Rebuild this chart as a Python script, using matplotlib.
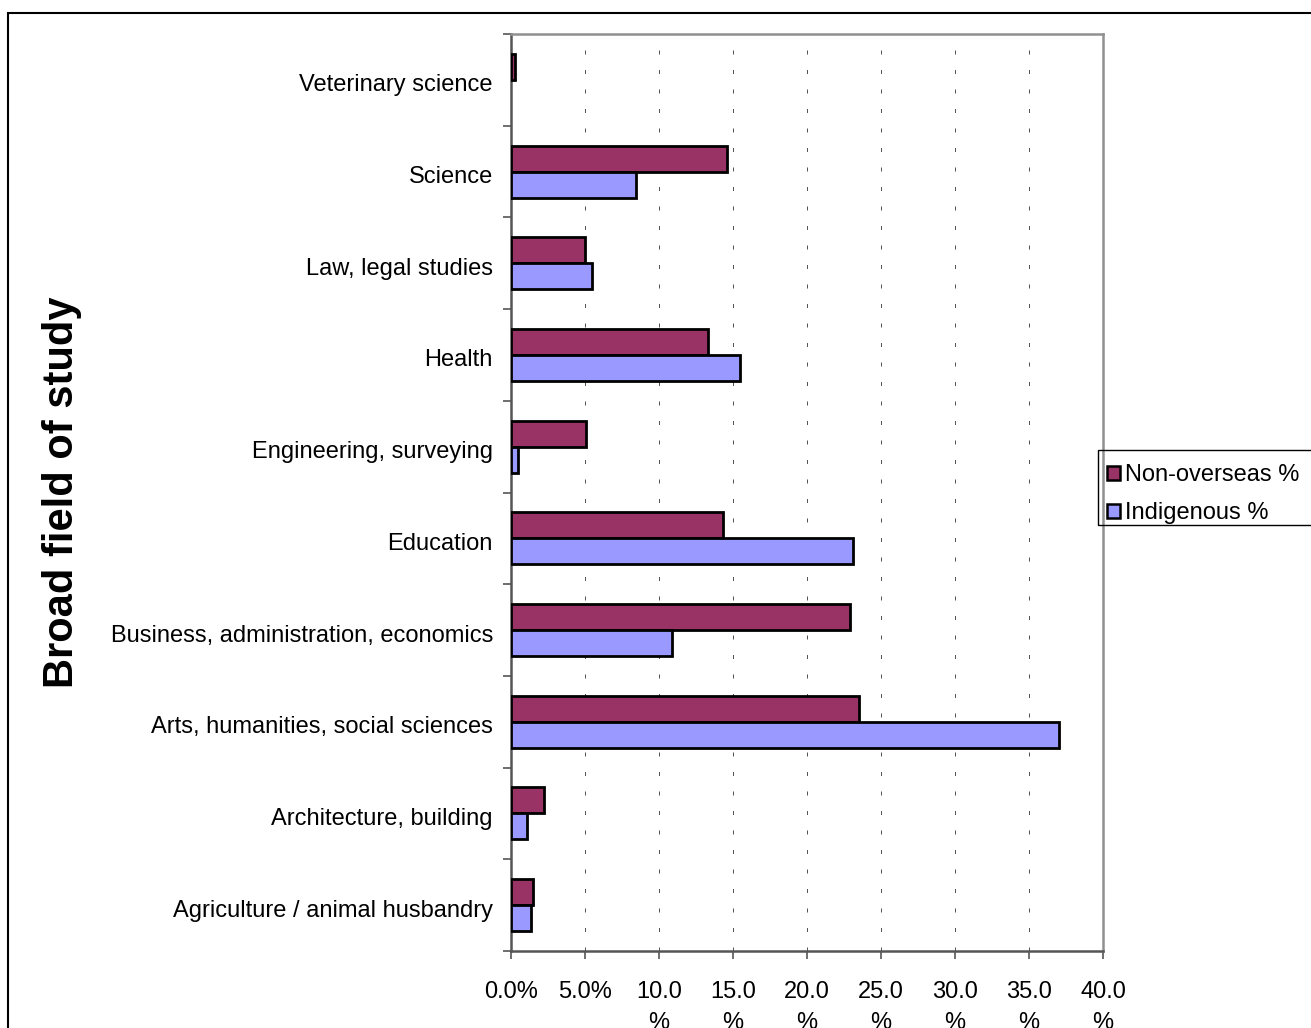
import matplotlib
matplotlib.use("Agg")
import matplotlib.pyplot as plt
from matplotlib.patches import Patch, Rectangle
from matplotlib.transforms import ScaledTranslation
import numpy as np

plt.rcParams['font.family'] = ['Liberation Sans', 'DejaVu Sans']

categories = ["Agriculture / animal husbandry", "Architecture, building",
              "Arts, humanities, social sciences", "Business, administration, economics",
              "Education", "Engineering, surveying", "Health", "Law, legal studies",
              "Science", "Veterinary science"]
non_overseas = [1.5, 2.2, 23.5, 22.9, 14.3, 5.1, 13.3, 5.0, 14.6, 0.3]
indigenous = [1.35, 1.1, 37.0, 10.9, 23.1, 0.45, 15.5, 5.45, 8.45, 0.0]
series_names = ["Non-overseas %", "Indigenous %"]
xticks = [0, 5, 10, 15, 20, 25, 30, 35, 40]
xticklabels = ["0.0%", "5.0%", "10.0\n%", "15.0\n%", "20.0\n%", "25.0\n%", "30.0\n%", "35.0\n%", "40.0\n%"]

W, H = 1311, 1028
fig = plt.figure(figsize=(W/100, H/100), dpi=100)
ax = fig.add_axes([511/W, 1-951/H, (1103-511)/W, (951-34)/H])

y = np.arange(len(categories))
h = 0.2835
c1, c2 = "#993366", "#9999FF"
b1 = ax.barh(y + h/2, non_overseas, height=h, color=c1, edgecolor="black", linewidth=2.0, zorder=3)
b2 = ax.barh(y - h/2, indigenous, height=h, color=c2, edgecolor="black", linewidth=2.0, zorder=3)
for p in list(b1) + list(b2):
    if p.get_width() == 0:
        p.set_visible(False)

ax.set_xlim(0, 40)
ax.set_ylim(-0.5, len(categories) - 0.5)

ax.set_xticks(xticks)
ax.set_xticklabels(xticklabels, fontsize=17, linespacing=1.55)
ax.tick_params(axis='x', direction='out', length=5.5, width=1.2, color='#555555', pad=16)

ax.set_yticks(np.arange(len(categories) + 1) - 0.5)
ax.set_yticklabels([])
ax.tick_params(axis='y', which='major', direction='out', length=5.5, width=1.2, color='#555555')
ax.set_yticks(y, minor=True)
ax.set_yticklabels(categories, minor=True, fontsize=17)
ax.tick_params(axis='y', which='minor', length=0, pad=13)
for lab in ax.get_yticklabels(minor=True):
    lab.set_transform(lab.get_transform() + ScaledTranslation(0, -0.03, fig.dpi_scale_trans))

for xv in xticks[1:-1]:
    ax.axvline(xv, color='#555555', linewidth=0.72, linestyle=(0, (4, 15.5)), zorder=1)

for s in ['left', 'bottom']:
    ax.spines[s].set_color('#555555')
    ax.spines[s].set_linewidth(1.8)
for s in ['top', 'right']:
    ax.spines[s].set_color('#909090')
    ax.spines[s].set_linewidth(1.8)

fig.text(62/W, 1-492/H, "Broad field of study", rotation=90, ha='center', va='center',
         fontsize=30, fontweight='bold')

handles = [Patch(facecolor=c1, edgecolor='black', linewidth=1.8),
           Patch(facecolor=c2, edgecolor='black', linewidth=1.8)]
leg = fig.legend(handles, series_names, loc='upper left', bbox_to_anchor=(1093/W, 1-450/H),
                 bbox_transform=fig.transFigure, fontsize=17, frameon=False, borderpad=0.6,
                 handlelength=0.55, handleheight=0.55, handletextpad=0.2, labelspacing=0.68,
                 borderaxespad=0)
fig.add_artist(Rectangle((1098/W, 1-525/H), 0.3, 75/H, transform=fig.transFigure,
                         fill=False, edgecolor='black', linewidth=1.0, clip_on=False))

fig.add_artist(Rectangle((8/W, -0.1), 1.2, (H-13)/H + 0.1, transform=fig.transFigure,
                         fill=False, edgecolor='black', linewidth=1.5, clip_on=False))

fig.savefig("out.png", dpi=100)
